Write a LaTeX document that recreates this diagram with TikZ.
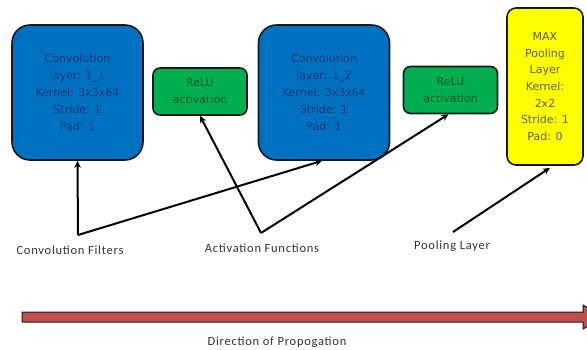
\documentclass[tikz,border=0pt]{standalone}
\usepackage{fontspec}
\setmainfont{DejaVu Sans}
\newfontfamily\labelfont[LetterSpace=6]{Carlito}
\usetikzlibrary{arrows.meta,calc}
\definecolor{convfill}{RGB}{0,112,192}
\definecolor{convtext}{RGB}{28,58,118}
\definecolor{relufill}{RGB}{0,176,80}
\definecolor{relutext}{RGB}{20,85,40}
\definecolor{poolfill}{RGB}{255,255,0}
\definecolor{pooltext}{RGB}{95,95,45}
\definecolor{arrowfill}{RGB}{192,80,77}
\definecolor{edgecol}{RGB}{25,25,25}
\tikzset{
  convbox/.style={draw=edgecol,line width=1.6pt,fill=convfill,rounded corners=18pt,
    minimum width=131pt,minimum height=135pt,align=center,text=convtext,
    font=\fontsize{11}{17}\selectfont,inner sep=0pt},
  relubox/.style={draw=edgecol,line width=1.6pt,fill=relufill,rounded corners=7pt,
    minimum width=94pt,minimum height=47pt,align=center,text=relutext,
    font=\fontsize{11}{17}\selectfont,inner sep=0pt},
  poolbox/.style={draw=edgecol,line width=1.6pt,fill=poolfill,rounded corners=9pt,
    minimum width=76pt,minimum height=157pt,align=center,text=pooltext,
    font=\fontsize{11}{16.7}\selectfont,inner sep=0pt},
  lbl/.style={font=\labelfont\fontsize{12.5}{14}\selectfont,text=black!80,inner sep=0pt},
  conn/.style={line width=2pt,-{Stealth[length=7pt,width=6.5pt]}},
}
\begin{document}
\begin{tikzpicture}[x=1pt,y=-1pt]
\useasboundingbox (0,0) rectangle (587,349);
\node[convbox] (conv1) at (77.5,92.5) {Convolution\\layer: 1\_1\\Kernel: 3x3x64\\Stride: 1\\Pad: 1};
\node[relubox] (relu1) at (200,91.5) {ReLU\\activation};
\node[convbox] (conv2) at (324,92.5) {Convolution\\layer: 1\_2\\Kernel: 3x3x64\\Stride: 1\\Pad: 1};
\node[relubox] (relu2) at (450.5,90) {ReLU\\activation};
\node[poolbox] (pool) at (545,86.5) {MAX\\Pooling\\Layer\\Kernel:\\2x2\\Stride: 1\\Pad: 0};

\coordinate (cfv) at (78,235);
\coordinate (afv) at (261,233);
\coordinate (plv) at (453,232);

\draw[conn] (cfv) -- (conv1.south);
\draw[conn] (cfv) -- ($(conv2.south)+(-2,0)$);
\draw[conn] (afv) -- (relu1.south);
\draw[conn] (afv) -- ($(relu2.south)+(-2,0)$);
\draw[conn] (plv) -- ($(pool.south)+(5,2)$);

\node[lbl] (cflabel) at (70,250) {Convolution Filters};
\node[lbl] (aflabel) at (262,248) {Activation Functions};
\node[lbl] (pllabel) at (452,246) {Pooling Layer};

\coordinate (pstart) at (22,317);
\coordinate (pend) at (604,317);
\draw[draw=edgecol,line width=1pt,fill=arrowfill]
  (22,312) -- (583,312) -- (583,305) -- (604,317) -- (583,329) -- (583,322) -- (22,322) -- cycle;
\node[lbl] (dirlabel) at (277,342) {Direction of Propogation};
\end{tikzpicture}
\end{document}
